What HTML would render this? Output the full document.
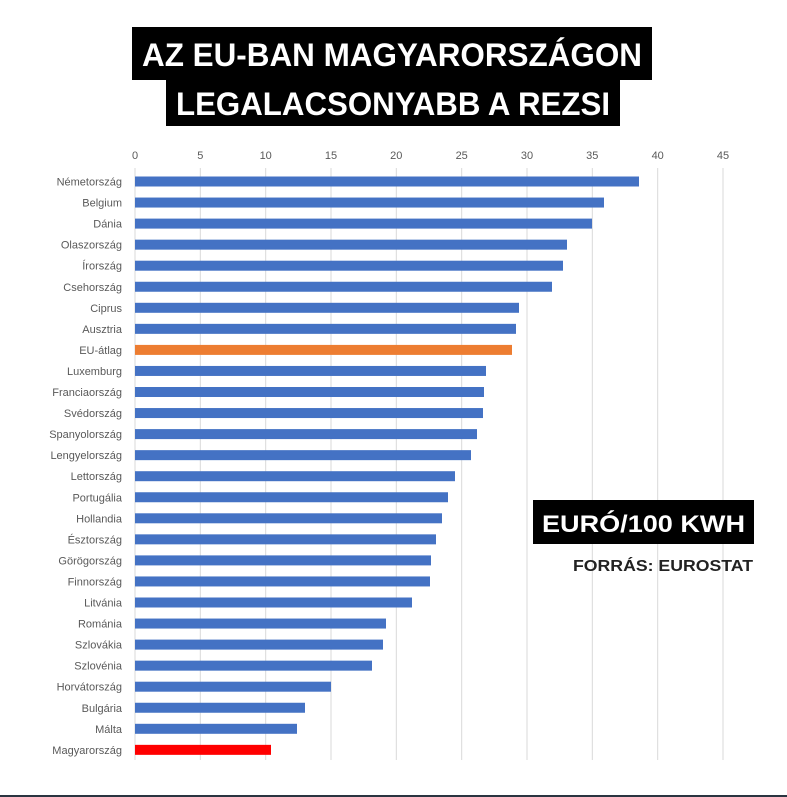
<!DOCTYPE html>
<html><head><meta charset="utf-8"><style>
html,body{margin:0;padding:0;background:#fff;}
svg{display:block;}
</style></head><body>
<svg width="787" height="797" viewBox="0 0 787 797" xmlns="http://www.w3.org/2000/svg">
<rect width="787" height="797" fill="#fff"/>
<g stroke="#d9d9d9" stroke-width="1">
<line x1="135" y1="168" x2="135" y2="760"/>
<line x1="200.3" y1="168" x2="200.3" y2="760"/>
<line x1="265.7" y1="168" x2="265.7" y2="760"/>
<line x1="331" y1="168" x2="331" y2="760"/>
<line x1="396.3" y1="168" x2="396.3" y2="760"/>
<line x1="461.7" y1="168" x2="461.7" y2="760"/>
<line x1="527" y1="168" x2="527" y2="760"/>
<line x1="592.3" y1="168" x2="592.3" y2="760"/>
<line x1="657.7" y1="168" x2="657.7" y2="760"/>
<line x1="723" y1="168" x2="723" y2="760"/>
</g>
<g font-family="Liberation Sans, sans-serif" font-size="11" fill="#595959" text-anchor="middle">
<text x="135" y="159">0</text><text x="200.3" y="159">5</text><text x="265.7" y="159">10</text>
<text x="331" y="159">15</text><text x="396.3" y="159">20</text><text x="461.7" y="159">25</text>
<text x="527" y="159">30</text><text x="592.3" y="159">35</text><text x="657.7" y="159">40</text><text x="723" y="159">45</text>
</g>
<g id="bars" font-family="Liberation Sans, sans-serif" font-size="11" fill="#595959" text-anchor="end"></g>
<rect x="132" y="27" width="520" height="53" fill="#000"/>
<rect x="166" y="80" width="454" height="46" fill="#000"/>
<g font-family="Liberation Sans, sans-serif" font-weight="bold" fill="#fff" font-size="32">
<text x="142" y="66" textLength="500" lengthAdjust="spacingAndGlyphs">AZ EU-BAN MAGYARORSZÁGON</text>
<text x="176" y="115" textLength="434" lengthAdjust="spacingAndGlyphs">LEGALACSONYABB A REZSI</text>
</g>
<rect x="533" y="500" width="221" height="44" fill="#000"/>
<text x="542" y="532" font-family="Liberation Sans, sans-serif" font-weight="bold" font-size="24" fill="#fff" textLength="203" lengthAdjust="spacingAndGlyphs">EURÓ/100 KWH</text>
<text x="753" y="571" text-anchor="end" font-family="Liberation Sans, sans-serif" font-weight="bold" font-size="16" fill="#222" textLength="180" lengthAdjust="spacingAndGlyphs">FORRÁS: EUROSTAT</text>
<rect x="0" y="795" width="787" height="2" fill="#2a3440"/>
</svg>
<script>
var d=[["Németország",639],["Belgium",604],["Dánia",592],["Olaszország",567],["Írország",563],["Csehország",552],["Ciprus",519],["Ausztria",516],["EU-átlag",512],["Luxemburg",486],["Franciaország",484],["Svédország",483],["Spanyolország",477],["Lengyelország",471],["Lettország",455],["Portugália",448],["Hollandia",442],["Észtország",436],["Görögország",431],["Finnország",430],["Litvánia",412],["Románia",386],["Szlovákia",383],["Szlovénia",372],["Horvátország",331],["Bulgária",305],["Málta",297],["Magyarország",271]];
var g=document.getElementById("bars"),ns="http://www.w3.org/2000/svg";
d.forEach(function(r,i){var c=181.5+i*21.05;
var b=document.createElementNS(ns,"rect");b.setAttribute("x",135);b.setAttribute("y",c-5);b.setAttribute("width",r[1]-135);b.setAttribute("height",10);
b.setAttribute("fill",r[0]=="EU-átlag"?"#ed7d31":r[0]=="Magyarország"?"#ff0000":"#4472c4");g.appendChild(b);
var t=document.createElementNS(ns,"text");t.setAttribute("x",122);t.setAttribute("y",c+4);t.textContent=r[0];g.appendChild(t);});
</script>
</body></html>
